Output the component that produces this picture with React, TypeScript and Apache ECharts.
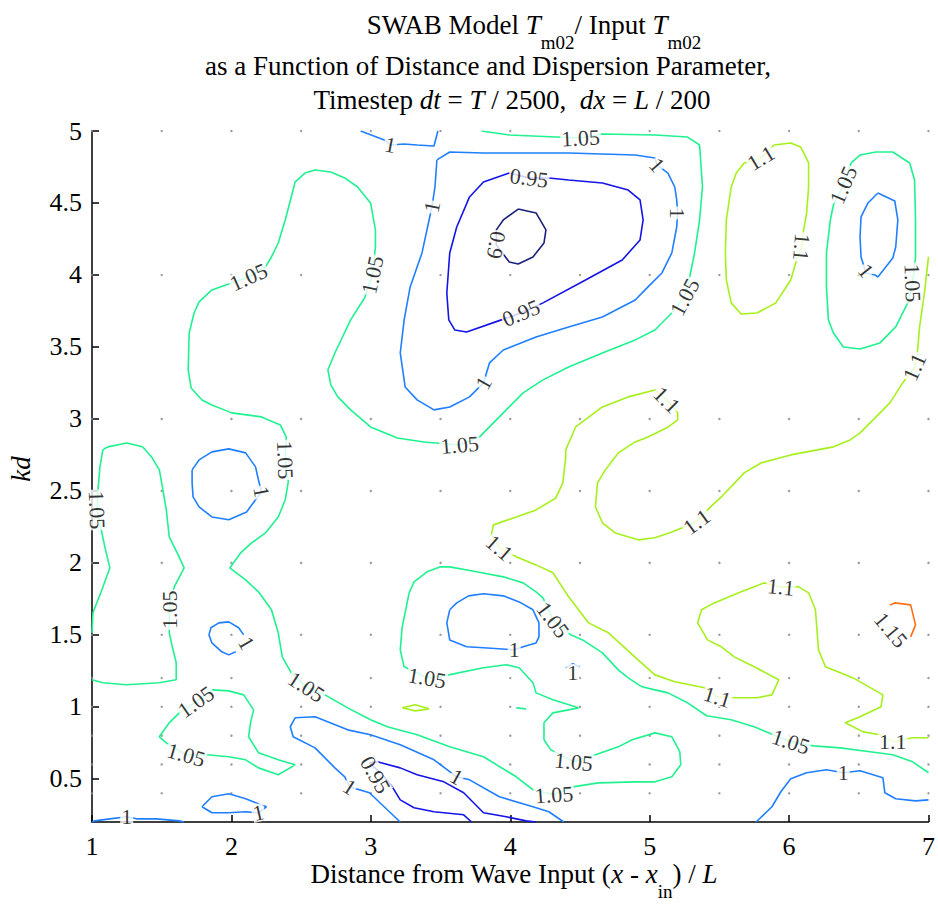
import React, { useEffect, useRef } from "react";
import * as echarts from "echarts";

const FONT = "'Liberation Serif', 'Times New Roman', serif";

// axes
const xTicks = [1, 2, 3, 4, 5, 6, 7];
const yTicks = [0.5, 1, 1.5, 2, 2.5, 3, 3.5, 4, 4.5, 5];
const gridDotX = [1, 1.5, 2, 2.5, 3, 3.5, 4, 4.5, 5, 5.5, 6, 6.5, 7];
const gridDotY = [0.4, 0.6, 0.8, 1, 1.2, 1.5, 2, 2.5, 3, 4, 5];

// contour levels and colours
const levels = [0.9, 0.95, 1, 1.05, 1.1, 1.15];
const levelColors = ["#1a1f7a", "#1414e6", "#1f7fff", "#1ff28f", "#a6f01c", "#ff6e14"];

// ---- contour 1.05 ----
const c105_a = [
  [3.794, 5.0], [3.993, 4.972], [4.327, 4.958], [4.505, 4.951], [4.661, 4.979], [5.038, 4.972], [5.272, 4.958], [5.358, 4.903],
  [5.379, 4.611], [5.358, 4.382], [5.322, 4.153], [5.287, 3.986], [5.251, 3.847], [5.145, 3.722], [5.038, 3.618], [4.896, 3.549],
  [4.661, 3.458], [4.419, 3.361], [4.235, 3.271], [4.092, 3.181], [3.95, 3.042], [3.78, 2.875], [3.637, 2.819], [3.381, 2.84],
  [3.19, 2.868], [2.998, 2.944], [2.855, 3.063], [2.763, 3.153], [2.713, 3.236], [2.692, 3.34], [2.742, 3.458], [2.855, 3.688],
  [2.955, 3.84], [3.012, 4.0], [3.033, 4.194], [3.033, 4.313], [2.998, 4.5], [2.905, 4.611], [2.813, 4.674], [2.713, 4.715],
  [2.6, 4.729], [2.528, 4.708], [2.457, 4.646], [2.429, 4.542], [2.386, 4.382], [2.336, 4.222], [2.287, 4.125], [2.244, 4.056],
  [2.123, 3.986], [1.96, 3.931], [1.86, 3.896], [1.768, 3.813], [1.732, 3.736], [1.697, 3.597], [1.69, 3.34], [1.711, 3.215],
  [1.789, 3.132], [1.86, 3.097], [2.002, 3.042], [2.216, 3.014], [2.351, 2.958], [2.393, 2.875], [2.386, 2.715], [2.408, 2.563],
  [2.386, 2.438], [2.336, 2.319], [2.244, 2.208], [2.145, 2.139], [2.066, 2.069], [1.988, 1.965], [2.102, 1.882], [2.194, 1.799],
  [2.287, 1.674], [2.336, 1.514], [2.365, 1.347], [2.429, 1.236], [2.536, 1.139], [2.671, 1.083], [2.834, 0.993], [2.998, 0.91],
  [3.118, 0.861], [3.332, 0.806], [3.566, 0.722], [3.808, 0.653], [4.043, 0.514], [4.163, 0.424], [4.313, 0.389], [4.448, 0.444],
  [4.633, 0.472], [4.896, 0.479], [5.038, 0.479], [5.159, 0.514], [5.223, 0.597], [5.216, 0.688], [5.159, 0.792], [5.038, 0.819],
  [4.874, 0.771], [4.775, 0.722], [4.611, 0.667], [4.455, 0.618], [4.291, 0.701], [4.242, 0.771], [4.242, 0.889], [4.306, 0.958],
  [4.49, 0.993], [4.306, 1.049], [4.185, 1.097], [4.163, 1.167], [4.064, 1.271], [3.972, 1.292], [3.808, 1.271], [3.559, 1.222],
  [3.403, 1.201], [3.239, 1.278], [3.211, 1.396], [3.225, 1.556], [3.275, 1.792], [3.31, 1.868], [3.403, 1.938], [3.495, 1.972],
  [3.566, 1.972], [3.758, 1.938], [3.95, 1.903], [4.092, 1.861], [4.185, 1.799], [4.235, 1.757], [4.306, 1.604], [4.434, 1.5],
  [4.519, 1.465], [4.661, 1.375], [4.775, 1.257], [4.846, 1.201], [4.945, 1.139], [5.038, 1.118], [5.131, 1.097], [5.272, 1.028],
  [5.408, 0.938], [5.585, 0.91], [5.749, 0.861], [6.012, 0.757], [6.175, 0.729], [6.367, 0.715], [6.58, 0.688], [6.744, 0.667],
  [6.886, 0.618], [7.0, 0.542],
];
const c105_b = [
  [1.0, 1.514], [1.007, 1.653], [1.071, 1.813], [1.128, 1.965], [1.092, 2.111], [1.071, 2.208], [1.036, 2.368], [1.043, 2.507],
  [1.057, 2.667], [1.078, 2.785], [1.114, 2.806], [1.249, 2.833], [1.363, 2.806], [1.427, 2.736], [1.483, 2.646], [1.505, 2.528],
  [1.533, 2.368], [1.554, 2.181], [1.611, 2.069], [1.661, 1.965], [1.59, 1.833], [1.569, 1.764], [1.554, 1.674], [1.554, 1.514],
  [1.576, 1.417], [1.604, 1.306], [1.604, 1.188], [1.483, 1.167], [1.249, 1.153], [1.078, 1.167], [1.0, 1.188],
];
const c105_c = [
  [1.86, 1.118], [1.981, 1.111], [2.088, 1.083], [2.159, 0.979], [2.137, 0.889], [2.123, 0.792], [2.194, 0.681], [2.336, 0.632],
  [2.457, 0.597], [2.336, 0.528], [2.194, 0.576], [2.102, 0.632], [1.981, 0.653], [1.825, 0.667], [1.675, 0.667], [1.533, 0.75],
  [1.483, 0.792], [1.554, 0.889], [1.626, 0.958], [1.746, 1.035], [1.86, 1.118],
];
const c105_d = [
  [6.445, 4.778], [6.509, 4.833], [6.623, 4.854], [6.744, 4.854], [6.865, 4.778], [6.9, 4.66], [6.907, 4.382], [6.907, 4.125],
  [6.886, 3.944], [6.851, 3.806], [6.765, 3.639], [6.652, 3.528], [6.509, 3.486], [6.389, 3.5], [6.318, 3.597], [6.282, 3.688],
  [6.268, 3.917], [6.268, 4.153], [6.296, 4.382], [6.318, 4.486], [6.389, 4.625], [6.445, 4.778],
];
const c105_e = [[4.043, 0.993], [4.114, 0.986]];

// ---- contour 1.1 ----
const c110_a = [
  [7.0, 4.125], [6.971, 3.875], [6.936, 3.639], [6.922, 3.479], [6.9, 3.361], [6.815, 3.25], [6.723, 3.111], [6.602, 2.993],
  [6.509, 2.903], [6.438, 2.854], [6.318, 2.806], [6.012, 2.75], [5.798, 2.694], [5.678, 2.625], [5.514, 2.458], [5.429, 2.382],
  [5.337, 2.285], [5.23, 2.243], [5.159, 2.215], [5.038, 2.174], [4.917, 2.16], [4.753, 2.208], [4.661, 2.278], [4.611, 2.389],
  [4.626, 2.556], [4.682, 2.646], [4.775, 2.764], [4.896, 2.84], [4.988, 2.875], [5.123, 2.938], [5.201, 2.993], [5.201, 3.042],
  [5.123, 3.132], [5.038, 3.201], [4.846, 3.153], [4.661, 3.083], [4.469, 2.944], [4.398, 2.785], [4.398, 2.736], [4.377, 2.556],
  [4.327, 2.451], [4.185, 2.368], [4.043, 2.319], [3.879, 2.264], [3.865, 2.194], [3.922, 2.104], [4.043, 2.042], [4.185, 1.986],
  [4.306, 1.931], [4.419, 1.764], [4.562, 1.583], [4.704, 1.514], [4.917, 1.326], [5.038, 1.222], [5.18, 1.174], [5.393, 1.132],
  [5.486, 1.069], [5.621, 1.063], [5.77, 1.063], [5.877, 1.083], [5.926, 1.188], [5.749, 1.278], [5.607, 1.347], [5.514, 1.417],
  [5.415, 1.465], [5.344, 1.583], [5.372, 1.674], [5.464, 1.722], [5.656, 1.799], [5.82, 1.861], [5.941, 1.833], [6.069, 1.833],
  [6.14, 1.792], [6.189, 1.674], [6.211, 1.396], [6.261, 1.278], [6.46, 1.201], [6.673, 1.083], [6.659, 1.0], [6.509, 0.931],
  [6.403, 0.889], [6.531, 0.826], [6.652, 0.806], [6.744, 0.757], [6.886, 0.785], [7.0, 0.785],
];
const c110_b = [
  [5.891, 4.903], [6.012, 4.917], [6.083, 4.889], [6.14, 4.778], [6.14, 4.611], [6.126, 4.431], [6.104, 4.313], [6.09, 4.194],
  [6.054, 4.104], [6.012, 3.965], [5.905, 3.806], [5.77, 3.736], [5.656, 3.729], [5.585, 3.806], [5.55, 3.965], [5.543, 4.153],
  [5.55, 4.382], [5.585, 4.611], [5.621, 4.708], [5.678, 4.778], [5.798, 4.813], [5.891, 4.903],
];
const c110_c = [[3.225, 0.993], [3.318, 1.014], [3.417, 0.986], [3.318, 0.972], [3.225, 0.993]];

// ---- contour 1.15 ----
const c115_a = [[6.872, 1.486], [6.907, 1.569], [6.872, 1.708], [6.758, 1.722], [6.723, 1.708]];

// ---- contour 1.0 ----
const c100_a = [[2.927, 5.0], [3.097, 4.938], [3.14, 4.903], [3.239, 4.91], [3.332, 4.903], [3.453, 4.896], [3.481, 5.0]];
const c100_b = [
  [3.474, 4.799], [3.566, 4.854], [3.808, 4.847], [4.419, 4.847], [4.896, 4.833], [5.038, 4.813], [5.052, 4.764], [5.131, 4.708],
  [5.18, 4.611], [5.194, 4.521], [5.201, 4.431], [5.194, 4.333], [5.159, 4.153], [5.088, 4.014], [4.988, 3.917], [4.896, 3.826],
  [4.661, 3.708], [4.419, 3.639], [4.185, 3.569], [3.95, 3.479], [3.851, 3.389], [3.808, 3.25], [3.708, 3.153], [3.566, 3.083],
  [3.453, 3.063], [3.332, 3.132], [3.246, 3.222], [3.211, 3.458], [3.239, 3.688], [3.282, 3.917], [3.367, 4.153], [3.438, 4.472],
  [3.46, 4.611], [3.474, 4.799],
];
const c100_c = [
  [1.718, 2.646], [1.768, 2.715], [1.86, 2.771], [1.981, 2.792], [2.102, 2.764], [2.173, 2.667], [2.194, 2.576], [2.216, 2.493],
  [2.173, 2.438], [2.109, 2.354], [1.981, 2.299], [1.86, 2.319], [1.768, 2.389], [1.725, 2.458], [1.718, 2.556], [1.718, 2.646],
];
const c100_d = [
  [2.031, 1.382], [1.981, 1.361], [1.931, 1.382], [1.86, 1.444], [1.839, 1.5], [1.853, 1.549], [1.91, 1.583], [1.981, 1.59],
  [2.052, 1.549], [2.088, 1.5],
];
const c100_e = [
  [3.566, 1.674], [3.545, 1.583], [3.566, 1.465], [3.687, 1.417], [3.808, 1.41], [4.028, 1.396], [4.092, 1.417], [4.185, 1.444],
  [4.206, 1.486], [4.206, 1.583], [4.163, 1.674], [4.064, 1.729], [3.95, 1.771], [3.808, 1.785], [3.701, 1.771], [3.616, 1.722],
  [3.566, 1.674],
];
const c100_f = [[4.398, 1.271], [4.448, 1.299], [4.497, 1.278]];
const c100_g = [
  [5.763, 0.2], [5.877, 0.306], [5.941, 0.41], [6.012, 0.5], [6.126, 0.542], [6.268, 0.563], [6.389, 0.542], [6.509, 0.556],
  [6.673, 0.507], [6.687, 0.403], [6.765, 0.361], [6.907, 0.347], [7.0, 0.354],
];
const c100_h = [[1.0, 0.2], [1.021, 0.208], [1.128, 0.222], [1.249, 0.236], [1.32, 0.222], [1.462, 0.222], [1.626, 0.208], [1.66, 0.2]];
const c100_i = [
  [1.789, 0.306], [1.86, 0.375], [1.981, 0.396], [2.102, 0.361], [2.251, 0.306], [2.194, 0.264], [2.102, 0.271], [1.981, 0.264],
  [1.86, 0.264], [1.789, 0.306],
];
const c100_j = [
  [3.211, 0.2], [3.118, 0.285], [2.99, 0.403], [2.848, 0.444], [2.813, 0.514], [2.742, 0.576], [2.6, 0.715], [2.443, 0.792],
  [2.422, 0.861], [2.457, 0.924], [2.6, 0.931], [2.834, 0.84], [2.998, 0.806], [3.211, 0.736], [3.453, 0.632], [3.616, 0.514],
  [3.708, 0.493], [3.922, 0.375], [4.163, 0.306], [4.277, 0.271], [4.384, 0.2],
];
const c100_k = [
  [6.637, 4.569], [6.758, 4.514], [6.78, 4.382], [6.765, 4.194], [6.744, 4.118], [6.637, 3.986], [6.616, 4.0], [6.552, 4.014],
  [6.516, 4.125], [6.509, 4.264], [6.516, 4.403], [6.566, 4.5], [6.637, 4.569],
];

// ---- contour 0.95 ----
const c095_a = [
  [3.993, 4.708], [4.135, 4.674], [4.277, 4.674], [4.419, 4.66], [4.661, 4.639], [4.846, 4.59], [4.931, 4.521], [4.953, 4.382],
  [4.931, 4.243], [4.803, 4.104], [4.54, 3.965], [4.235, 3.806], [4.078, 3.736], [3.936, 3.688], [3.687, 3.604], [3.602, 3.618],
  [3.559, 3.688], [3.545, 3.875], [3.566, 4.153], [3.616, 4.333], [3.708, 4.542], [3.808, 4.646], [3.993, 4.708],
];
const c095_b = [
  [3.723, 0.2], [3.666, 0.25], [3.453, 0.271], [3.31, 0.299], [3.211, 0.354], [3.154, 0.444], [3.083, 0.528], [2.99, 0.611],
  [3.047, 0.618], [3.211, 0.576], [3.332, 0.528], [3.524, 0.479], [3.666, 0.403], [3.808, 0.264], [3.972, 0.236], [4.114, 0.208],
  [4.185, 0.2],
];

// ---- contour 0.9 ----
const c090_a = [
  [4.057, 4.458], [4.185, 4.431], [4.256, 4.313], [4.242, 4.222], [4.163, 4.125], [4.057, 4.076], [3.993, 4.09], [3.9, 4.208],
  [3.9, 4.313], [3.95, 4.382], [4.057, 4.458],
];

const contours: { level: number; pts: number[][] }[] = [
  { level: 1.05, pts: c105_a }, { level: 1.05, pts: c105_b }, { level: 1.05, pts: c105_c }, { level: 1.05, pts: c105_d },
  { level: 1.05, pts: c105_e }, { level: 1.1, pts: c110_a }, { level: 1.1, pts: c110_b }, { level: 1.1, pts: c110_c },
  { level: 1.15, pts: c115_a }, { level: 1, pts: c100_a }, { level: 1, pts: c100_b }, { level: 1, pts: c100_c },
  { level: 1, pts: c100_d }, { level: 1, pts: c100_e }, { level: 1, pts: c100_f }, { level: 1, pts: c100_g },
  { level: 1, pts: c100_h }, { level: 1, pts: c100_i }, { level: 1, pts: c100_j }, { level: 1, pts: c100_k },
  { level: 0.95, pts: c095_a }, { level: 0.95, pts: c095_b }, { level: 0.9, pts: c090_a },
];

// contour labels: [x, y, text, rotation in degrees]
const contourLabels: [number, number, string, number][] = [
  [4.505, 4.951, "1.05", 3], [5.251, 3.847, "1.05", 62], [3.637, 2.819, "1.05", 5], [3.012, 4.0, "1.05", 78],
  [2.123, 3.986, "1.05", 24], [2.386, 2.715, "1.05", -88], [2.536, 1.139, "1.05", -33], [4.313, 0.389, "1.05", 4],
  [4.455, 0.618, "1.05", -6], [3.403, 1.201, "1.05", -10], [4.306, 1.604, "1.05", -53], [6.012, 0.757, "1.05", -18],
  [1.036, 2.368, "1.05", -88], [1.554, 1.674, "1.05", 90], [1.746, 1.035, "1.05", 35], [1.675, 0.667, "1.05", -16],
  [6.389, 4.625, "1.05", 67], [6.886, 3.944, "1.05", -88], [6.552, 4.03, "1", -52],
  [5.798, 4.813, "1.1", 31], [6.09, 4.194, "1.1", -95], [6.9, 3.361, "1.1", 66], [5.337, 2.285, "1.1", 36],
  [5.123, 3.132, "1.1", -45], [3.922, 2.104, "1.1", -41], [5.486, 1.069, "1.1", -17], [5.941, 1.833, "1.1", -6],
  [6.744, 0.757, "1.1", 0], [6.73, 1.535, "1.15", -50],
  [3.14, 4.903, "1", -11], [5.052, 4.764, "1", -49], [5.201, 4.431, "1", -90], [3.808, 3.25, "1", 60],
  [3.438, 4.472, "1", 79], [2.216, 2.493, "1", -80], [2.109, 1.444, "1", -60], [4.028, 1.396, "1", 0],
  [4.448, 1.236, "1", 0], [6.389, 0.542, "1", 0], [1.249, 0.236, "1", 0], [2.194, 0.264, "1", 13],
  [2.848, 0.444, "1", -33], [3.616, 0.514, "1", -29],
  [4.135, 4.674, "0.95", -7], [4.078, 3.736, "0.95", 22], [3.033, 0.528, "0.95", -60], [3.9, 4.208, "0.9", -100],
];

// title / axis-title texts as [text, style] tokens (n = normal, i = italic, s = subscript)
type Tok = [string, "n" | "i" | "s"];
const titleLine1: Tok[] = [["SWAB Model ", "n"], ["T", "i"], ["m02", "s"], ["/ Input ", "n"], ["T", "i"], ["m02", "s"]];
const titleLine2: Tok[] = [["as a Function of Distance and Dispersion Parameter,", "n"]];
const titleLine3: Tok[] = [
  ["Timestep ", "n"], ["dt", "i"], [" = ", "n"], ["T", "i"], [" / 2500,  ", "n"], ["dx", "i"], [" = ", "n"], ["L", "i"], [" / 200", "n"],
];
const xAxisTitle: Tok[] = [["Distance from Wave Input (", "n"], ["x", "i"], [" - ", "n"], ["x", "i"], ["in", "s"], [") / ", "n"], ["L", "i"]];

const TOKEN_FONTS = { n: `27px ${FONT}`, i: `italic 27px ${FONT}`, s: `19px ${FONT}` };

function lineElements(tokens: Tok[], cx: number, cy: number, subDy: number) {
  const ctx = document.createElement("canvas").getContext("2d")!;
  const widths = tokens.map(([t, f]) => {
    ctx.font = TOKEN_FONTS[f];
    return ctx.measureText(t).width;
  });
  const total = widths.reduce((a, b) => a + b, 0);
  let x = cx - total / 2;
  return tokens.map(([t, f], k) => {
    const el = {
      type: "text", x, y: f === "s" ? cy + subDy : cy, silent: true,
      style: {
        text: t, font: TOKEN_FONTS[f], fill: "#000", lineHeight: f === "s" ? 15 : 21,
        align: "left", verticalAlign: "middle", textAlign: "left", textVerticalAlign: "middle",
      },
    };
    x += widths[k];
    return el;
  });
}

export default function App() {
  const ref = useRef<HTMLDivElement>(null);
  useEffect(() => {
    if (!ref.current) return;
    const chart = echarts.init(ref.current, undefined, { renderer: "svg" });
    const colorOf = (lv: number) => levelColors[levels.indexOf(lv)];
    const dots: number[][] = [];
    gridDotX.forEach((x) => gridDotY.forEach((y) => dots.push([x, y])));

    const series: any[] = [
      {
        type: "scatter", data: dots, symbolSize: 2.5, itemStyle: { color: "#8a8a8a" }, silent: true, z: 1,
      },
      ...contours.map((c) => ({
        type: "line", data: c.pts, showSymbol: false, symbol: "none", silent: true, z: 2,
        lineStyle: { color: colorOf(c.level), width: 1.6 },
      })),
      {
        type: "scatter", silent: true, z: 5, symbolSize: 1, itemStyle: { color: "rgba(0,0,0,0)" },
        label: {
          show: true, position: "inside", formatter: "{b}", fontFamily: FONT, fontSize: 22, color: "#000",
          backgroundColor: "#fff", padding: [0, 1], lineHeight: 18,
        },
        data: contourLabels.map(([x, y, t, r]) => ({ name: t, value: [x, y], label: { rotate: r } })),
      },
    ];

    const graphic: any[] = [
      ...lineElements(titleLine1, 534, 25, 17),
      ...lineElements(titleLine2, 488, 66, 0),
      ...lineElements(titleLine3, 512, 100, 0),
      ...lineElements(xAxisTitle, 514, 874, 17),
      {
        type: "text", x: 21, y: 469, rotation: Math.PI / 2, silent: true,
        style: {
          text: "kd", font: `italic 27px ${FONT}`, fill: "#000", lineHeight: 21,
          align: "center", verticalAlign: "middle", textAlign: "center", textVerticalAlign: "middle",
        },
      },
    ];

    chart.setOption({
      animation: false,
      backgroundColor: "#fff",
      grid: { left: 92, right: 2, top: 131, bottom: 84, containLabel: false },
      xAxis: {
        type: "value", min: 1, max: 7, interval: 1,
        axisLine: { show: true, lineStyle: { color: "#000", width: 1.5 } },
        axisTick: { show: true, inside: true, length: 7, lineStyle: { color: "#000", width: 1.5 } },
        axisLabel: { fontFamily: FONT, fontSize: 26, color: "#000", margin: 14, lineHeight: 20, customValues: xTicks },
        splitLine: { show: false },
      },
      yAxis: {
        type: "value", min: 0.2, max: 5,
        axisLine: { show: true, lineStyle: { color: "#000", width: 1.5 } },
        axisTick: { show: true, inside: true, length: 7, lineStyle: { color: "#000", width: 1.5 }, customValues: yTicks },
        axisLabel: { fontFamily: FONT, fontSize: 26, color: "#000", margin: 10, customValues: yTicks },
        splitLine: { show: false },
      },
      series,
      graphic,
    });
    return () => chart.dispose();
  }, []);
  return <div ref={ref} style={{ position: "fixed", left: 0, top: 0, width: 938, height: 906 }} />;
}
